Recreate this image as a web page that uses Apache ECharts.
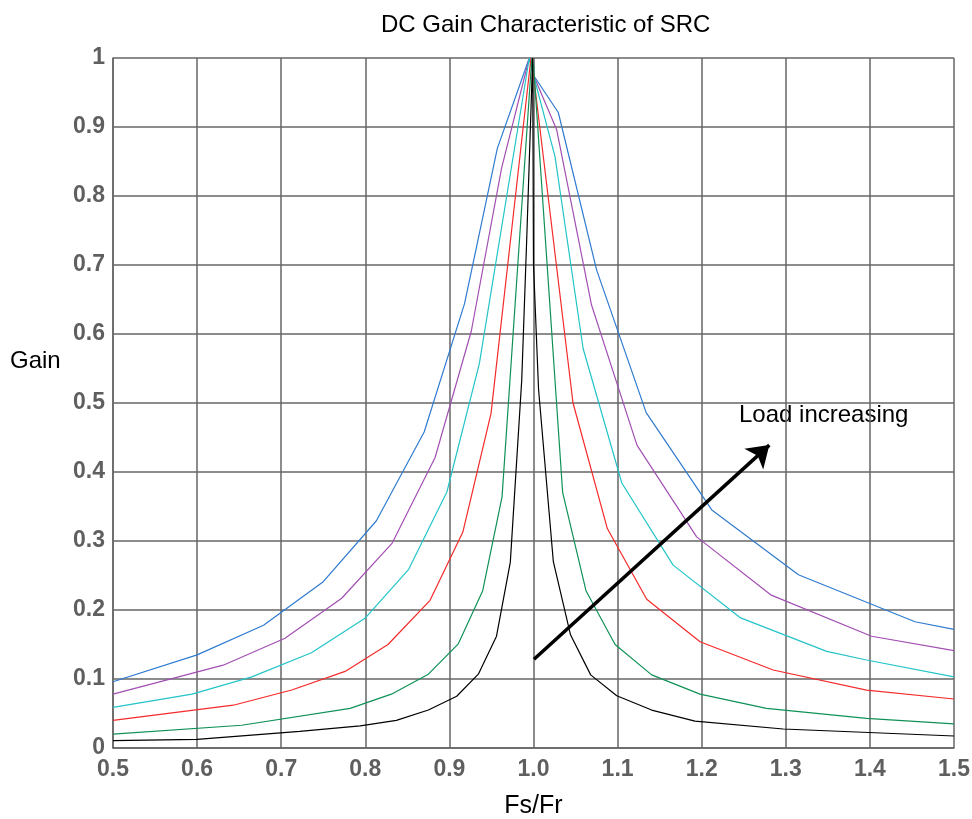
<!DOCTYPE html>
<html>
<head>
<meta charset="utf-8">
<script src="https://cdn.jsdelivr.net/npm/echarts@6/dist/echarts.min.js"></script>
<style>html,body{margin:0;padding:0;background:#fff}#c{width:972px;height:819px}</style>
</head>
<body>
<div id="c"></div>
<script>
// [Fs/Fr, Gain] pairs
const blue = [[0.5,0.096],[0.6,0.135],[0.679,0.178],[0.75,0.241],[0.813,0.329],[0.870,0.458],[0.918,0.644],[0.957,0.869],[0.995,1.0],[1.0,0.975],[1.0295,0.921],[1.075,0.693],[1.134,0.486],[1.212,0.345],[1.315,0.251],[1.4536,0.183],[1.5,0.172]];
const purple = [[0.5,0.078],[0.631,0.120],[0.7045,0.159],[0.772,0.217],[0.832,0.297],[0.883,0.421],[0.926,0.604],[0.962,0.84],[0.995,1.0],[1.0,0.975],[1.0276,0.896],[1.069,0.642],[1.123,0.439],[1.194,0.306],[1.282,0.222],[1.402,0.162],[1.5,0.141]];
const cyan = [[0.5,0.059],[0.594,0.078],[0.665,0.103],[0.736,0.138],[0.7996,0.188],[0.8516,0.259],[0.897,0.371],[0.9356,0.557],[0.995,1.0],[1.0,0.975],[1.0256,0.857],[1.059,0.579],[1.105,0.384],[1.166,0.265],[1.2455,0.189],[1.3486,0.140],[1.396,0.1275],[1.5,0.103]];
const red = [[0.5,0.040],[0.643,0.062],[0.7125,0.084],[0.776,0.111],[0.827,0.150],[0.877,0.214],[0.916,0.313],[0.9495,0.485],[0.997,1.0],[1.0,0.975],[1.047,0.50],[1.0878,0.318],[1.1346,0.2155],[1.198,0.154],[1.285,0.113],[1.396,0.084],[1.5,0.071]];
const green = [[0.5,0.020],[0.653,0.033],[0.782,0.0575],[0.831,0.078],[0.875,0.107],[0.9106,0.151],[0.9396,0.228],[0.9626,0.364],[0.998,1.0],[1.0,0.99],[1.0347,0.370],[1.0624,0.228],[1.097,0.150],[1.1405,0.106],[1.198,0.078],[1.277,0.0575],[1.396,0.043],[1.5,0.035]];
const black = [[0.5,0.0106],[0.6,0.0126],[0.722,0.024],[0.794,0.032],[0.837,0.040],[0.875,0.055],[0.9087,0.075],[0.9344,0.107],[0.956,0.162],[0.9724,0.269],[0.986,0.533],[0.992,0.74],[0.999,1.0],[1.0,0.70],[1.006,0.52],[1.0236,0.270],[1.044,0.164],[1.068,0.106],[1.099,0.0758],[1.1405,0.055],[1.192,0.039],[1.297,0.0275],[1.5,0.0174]];
const arrowStart = [1.0006, 0.1286];
const arrowEnd = [1.2804, 0.439];
const xTicks = {min: 0.5, max: 1.5, step: 0.1};
const yTicks = {min: 0, max: 1, step: 0.1};
const titleText = 'DC Gain Characteristic of SRC';
const xName = 'Fs/Fr';
const yName = 'Gain';
const annotation = 'Load increasing';

const seriesDefs = [
  {name:'s1', data: blue, color:'#2f7bd0'},
  {name:'s2', data: purple, color:'#a24fb2'},
  {name:'s3', data: cyan, color:'#22c4c8'},
  {name:'s4', data: red, color:'#f42a2a'},
  {name:'s5', data: green, color:'#0f9156'},
  {name:'s6', data: black, color:'#000000'}
];

const FONT = 'Liberation Sans, Arial, sans-serif';
const chart = echarts.init(document.getElementById('c'));
const series = seriesDefs.map(s => ({
  name: s.name, type: 'line', data: s.data, showSymbol: false, symbol: 'none',
  lineStyle: {color: s.color, width: 1.2}, itemStyle: {color: s.color}, z: 3, animation: false
}));
series.push({
  type: 'line', data: [], silent: true, animation: false,
  markLine: {
    silent: true, symbol: ['none', 'arrow'], symbolSize: 21, animation: false,
    lineStyle: {color: '#000', width: 3.5, type: 'solid'},
    label: {show: false},
    data: [[{coord: arrowStart}, {coord: arrowEnd}]]
  }
});

const labelStyle = {color: '#5f5f5f', fontSize: 23, fontWeight: 'bold', fontFamily: FONT};

chart.setOption({
  backgroundColor: '#fff',
  animation: false,
  title: {text: titleText, left: 376, top: 8, textStyle: {fontSize: 24, fontWeight: 'normal', color: '#000', fontFamily: FONT}},
  grid: {left: 113, right: 18, top: 58, bottom: 71, outerBoundsMode: 'none', containLabel: false},
  xAxis: {
    type: 'value', min: xTicks.min, max: xTicks.max, interval: xTicks.step,
    name: xName, nameLocation: 'middle', nameGap: 46,
    nameTextStyle: {fontSize: 25, color: '#000', fontFamily: FONT},
    axisLine: {show: true, lineStyle: {color: '#666', width: 1.5}},
    axisTick: {show: false},
    axisLabel: Object.assign({margin: 10, formatter: v => v.toFixed(1)}, labelStyle),
    splitLine: {show: true, lineStyle: {color: '#666', width: 1.5}}
  },
  yAxis: {
    type: 'value', min: yTicks.min, max: yTicks.max, interval: yTicks.step,
    axisLine: {show: true, lineStyle: {color: '#666', width: 1.5}},
    axisTick: {show: false},
    axisLabel: Object.assign({margin: 8, formatter: v => (Math.round(v*10)/10).toString()}, labelStyle),
    splitLine: {show: true, lineStyle: {color: '#666', width: 1.5}}
  },
  graphic: [{
    type: 'text', left: 10, top: 349,
    style: {text: yName, fontSize: 24, fill: '#000', fontFamily: FONT}
  }, {
    type: 'text', left: 739, top: 403,
    style: {text: annotation, fontSize: 24, fill: '#000', fontFamily: FONT}
  }],
  series: series
});
</script>
</body>
</html>
